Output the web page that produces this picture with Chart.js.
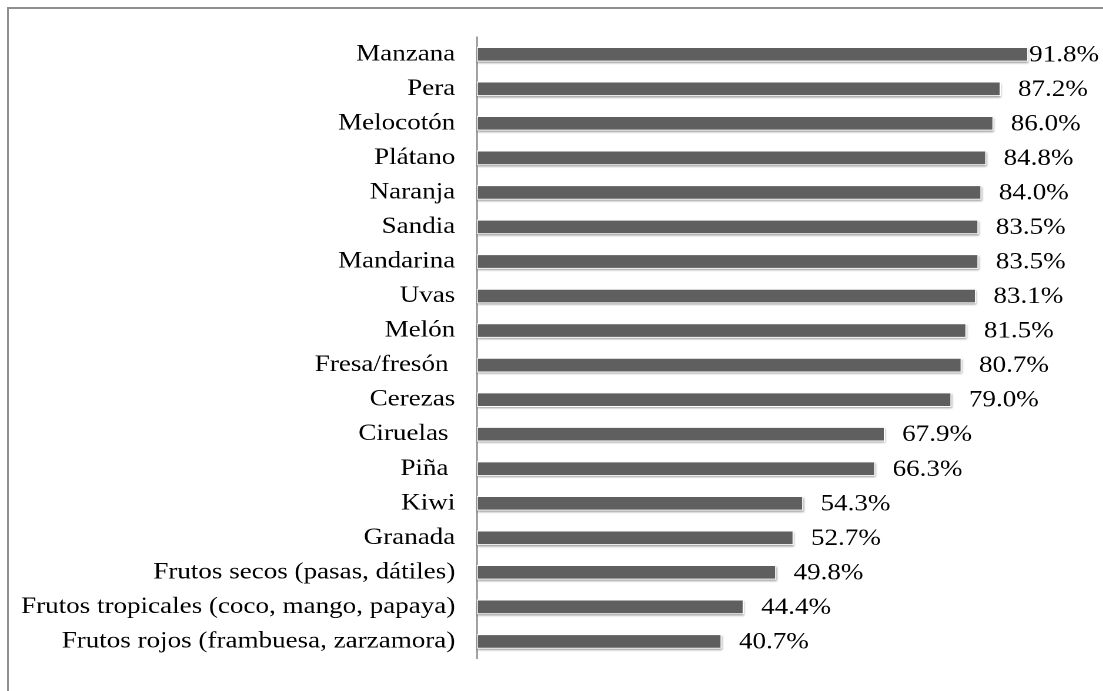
<!DOCTYPE html>
<html>
<head>
<meta charset="utf-8">
<script src="https://cdn.jsdelivr.net/npm/chart.js@4"></script>
<style>
  html, body { margin: 0; padding: 0; background: #fff; overflow: hidden; }
  body { width: 1103px; height: 691px; position: relative; }
  #frame {
    position: absolute; left: 7px; top: 7px; right: -10px; bottom: -10px;
    border-top: 2px solid #8e8e8e; border-left: 2px solid #8e8e8e;
  }
  /* the chart is laid out narrower and stretched across the page width */
  #wrap {
    position: absolute; left: 0; top: 0; width: 938px; height: 691px;
    transform: scaleX(1.176); transform-origin: 0 0;
  }
</style>
</head>
<body>
<div id="frame"></div>
<div id="wrap"><canvas id="frutasChart" width="938" height="691"></canvas></div>
<script>
var frutas = [
    'Manzana', 'Pera', 'Melocotón', 'Plátano', 'Naranja', 'Sandia', 'Mandarina',
    'Uvas', 'Melón', 'Fresa/fresón ', 'Cerezas', 'Ciruelas ', 'Piña ', 'Kiwi',
    'Granada', 'Frutos secos (pasas, dátiles)',
    'Frutos tropicales (coco, mango, papaya)',
    'Frutos rojos (frambuesa, zarzamora)'
];
var porcentajes = [
    91.8, 87.2, 86.0, 84.8, 84.0, 83.5, 83.5, 83.1, 81.5, 80.7,
    79.0, 67.9, 66.3, 54.3, 52.7, 49.8, 44.4, 40.7
];

var ESTIRA = 1.176;
var familia = '"Liberation Serif", "Times New Roman", serif';

// soft shadow under each bar, painted before the bars themselves
var sombraBarras = {
    id: 'sombraBarras',
    beforeDatasetsDraw: function(chart) {
        var ctx = chart.ctx;
        chart.getDatasetMeta(0).data.forEach(function(bar) {
            ctx.save();
            ctx.shadowColor = 'rgba(0, 0, 0, 0.4)';
            ctx.shadowBlur = 4;
            ctx.shadowOffsetX = 1;
            ctx.shadowOffsetY = 3;
            ctx.fillStyle = '#ffffff';
            ctx.fillRect(bar.base, bar.y - bar.height / 2, bar.x - bar.base, bar.height);
            ctx.restore();
        });
    }
};

// percentage labels at the end of each bar
var etiquetas = {
    id: 'etiquetas',
    afterDatasetsDraw: function(chart) {
        var ctx = chart.ctx;
        var limite = 1099 / ESTIRA;
        ctx.save();
        ctx.font = '23px ' + familia;
        ctx.fillStyle = '#000';
        ctx.textAlign = 'left';
        ctx.textBaseline = 'middle';
        chart.getDatasetMeta(0).data.forEach(function(bar, i) {
            var texto = porcentajes[i].toFixed(1) + '%';
            var ancho = ctx.measureText(texto).width;
            var x = Math.min(bar.x + 15, limite - ancho);
            ctx.fillText(texto, x, bar.y + 1);
        });
        ctx.restore();
    }
};

var ctx = document.getElementById('frutasChart').getContext('2d');
var frutasChart = new Chart(ctx, {
    type: 'bar',
    data: {
        labels: frutas,
        datasets: [{
            data: porcentajes,
            backgroundColor: '#5f5f5f',
            borderColor: '#ffffff',
            borderWidth: 1,
            barThickness: 14,
            borderSkipped: false
        }]
    },
    options: {
        indexAxis: 'y',
        responsive: false,
        animation: false,
        devicePixelRatio: 2,
        layout: { padding: { top: 37, bottom: 26, right: 22, left: 0 } },
        plugins: {
            legend: { display: false },
            tooltip: { enabled: false }
        },
        scales: {
            x: {
                display: false,
                min: 0,
                max: 100
            },
            y: {
                afterFit: function(scale) { scale.width = 477 / ESTIRA; },
                grid: { display: false, drawTicks: false },
                border: { display: true, color: '#8a8a8a', width: 1.3 },
                ticks: {
                    padding: 18.5,
                    color: '#000',
                    font: { family: familia, size: 23 }
                }
            }
        }
    },
    plugins: [sombraBarras, etiquetas]
});
</script>
</body>
</html>
